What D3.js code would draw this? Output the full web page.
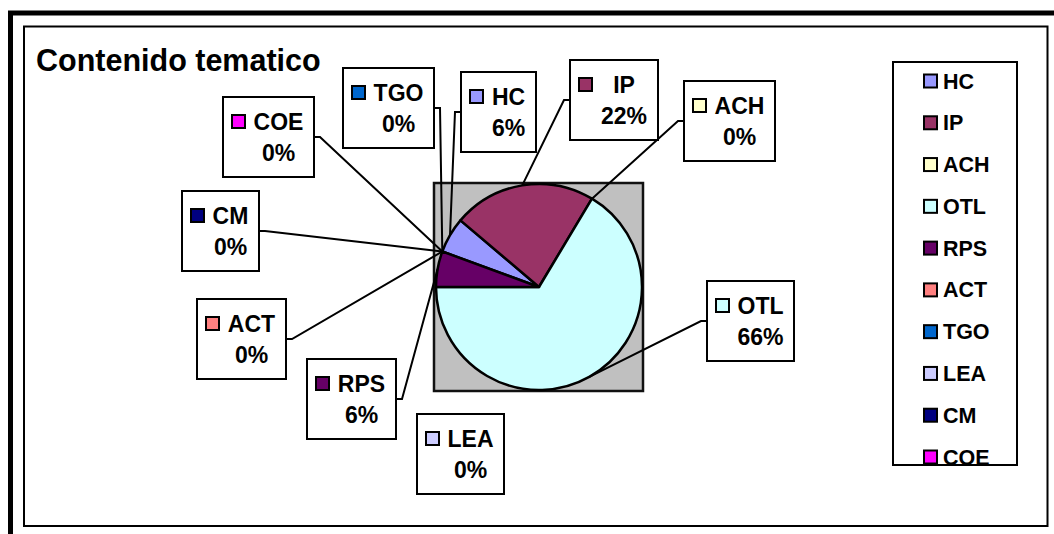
<!DOCTYPE html>
<html>
<head>
<meta charset="utf-8">
<script src="https://cdn.jsdelivr.net/npm/d3@7"></script>
<style>
  html, body { margin: 0; padding: 0; background: #fff; }
  svg { display: block; }
  text { font-family: "Liberation Sans", Arial, Helvetica, sans-serif; font-weight: bold; fill: #000; }
</style>
</head>
<body>
<script>
// ---- data ----
const title = "Contenido tematico";
const categories = ["HC", "IP", "ACH", "OTL", "RPS", "ACT", "TGO", "LEA", "CM", "COE"];
const values = [5.6, 22.4, 0, 66.4, 5.6, 0, 0, 0, 0, 0];
const colors = ["#9999FF", "#993366", "#FFFFCC", "#CCFFFF", "#660066", "#FF8080", "#0066CC", "#CCCCFF", "#000080", "#FF00FF"];

// ---- layout (positions of label boxes, in px) ----
const labelBoxes = {
  HC:  { x: 461, y: 72,  w: 75, leader: true },
  IP:  { x: 570, y: 60,  w: 88, leader: true },
  ACH: { x: 684, y: 81,  w: 91, leader: true },
  OTL: { x: 707, y: 281, w: 87, leader: true },
  RPS: { x: 307, y: 359, w: 89, leader: true },
  ACT: { x: 197, y: 299, w: 89, leader: true },
  TGO: { x: 343, y: 68,  w: 91, leader: true },
  LEA: { x: 417, y: 414, w: 87, leader: false },
  CM:  { x: 182, y: 191, w: 77, leader: true },
  COE: { x: 223, y: 97,  w: 91, leader: true }
};
const boxH = 80;

const W = 1054, H = 534;
const svg = d3.select("body").append("svg").attr("width", W).attr("height", H);
svg.append("rect").attr("width", W).attr("height", H).attr("fill", "#fff");

// outer thick frame
svg.append("rect").attr("x", 10.5).attr("y", 13).attr("width", 1200).attr("height", 700)
  .attr("fill", "none").attr("stroke", "#000").attr("stroke-width", 5);
// inner chart-area frame
svg.append("rect").attr("x", 24).attr("y", 26.5).attr("width", 1023.5).attr("height", 499.5)
  .attr("fill", "#fff").attr("stroke", "#000").attr("stroke-width", 2);

// title
svg.append("text").attr("x", 36).attr("y", 70.5).style("font-size", "30.5px").text(title);

// plot area
const plot = { x: 434, y: 183, w: 209, h: 208 };
svg.append("rect").attr("x", plot.x).attr("y", plot.y).attr("width", plot.w).attr("height", plot.h)
  .attr("fill", "#C0C0C0").attr("stroke", "#111").attr("stroke-width", 2.5);

const cx = 539, cy = 287, r = 103;
const data = categories.map((c, i) => ({ name: c, value: values[i], color: colors[i] }));
const total = d3.sum(values);

// first slice angle: zero-value slices sit at the RPS/HC boundary, OTL ends at 9 o'clock
const rpsSpan = values[4] / total * 2 * Math.PI;
const start = 1.5 * Math.PI + rpsSpan;
const pie = d3.pie().sort(null).value(d => d.value).startAngle(start).endAngle(start + 2 * Math.PI);
const arcs = pie(data);
const arc = d3.arc().innerRadius(0).outerRadius(r);
const edge = d3.arc().innerRadius(r).outerRadius(r);

const g = svg.append("g").attr("transform", `translate(${cx},${cy})`);
g.selectAll("path").data(arcs.filter(d => d.value > 0)).join("path")
  .attr("d", arc).attr("fill", d => d.data.color)
  .attr("stroke", "#000").attr("stroke-width", 2.5).attr("stroke-linejoin", "round");

// leader lines
const leaders = svg.append("g");
arcs.forEach(d => {
  const b = labelBoxes[d.data.name];
  if (!b.leader) return;
  const [px, py] = edge.centroid(d);
  const ax = cx + px, ay = cy + py;
  const midY = b.y + boxH / 2;
  const left = (b.x + b.w / 2) < ax;
  const x0 = left ? b.x + b.w : b.x;
  const x1 = left ? x0 + 6 : x0 - 6;
  leaders.append("path")
    .attr("d", d3.line()([[x0, midY], [x1, midY], [ax, ay]]))
    .attr("fill", "none").attr("stroke", "#000").attr("stroke-width", 2);
});

// data labels
const fmt = v => Math.round(v / total * 100) + "%";
arcs.forEach(d => {
  const b = labelBoxes[d.data.name];
  const lg = svg.append("g");
  lg.append("rect").attr("x", b.x).attr("y", b.y).attr("width", b.w).attr("height", boxH)
    .attr("fill", "#fff").attr("stroke", "#000").attr("stroke-width", 2);
  lg.append("rect").attr("x", b.x + 9).attr("y", b.y + 18).attr("width", 13).attr("height", 13)
    .attr("fill", d.data.color).attr("stroke", "#000").attr("stroke-width", 2);
  const tcx = b.x + (b.w + 20) / 2;
  lg.append("text").attr("x", tcx).attr("y", b.y + 32.5).attr("text-anchor", "middle")
    .style("font-size", "23px").text(d.data.name);
  lg.append("text").attr("x", tcx).attr("y", b.y + 63.5).attr("text-anchor", "middle")
    .style("font-size", "23px").text(fmt(d.data.value));
});

// legend
const legend = svg.append("g");
legend.append("rect").attr("x", 893).attr("y", 62).attr("width", 124).attr("height", 403)
  .attr("fill", "#fff").attr("stroke", "#000").attr("stroke-width", 2);
const ly = d3.scalePoint().domain(categories).range([81, 457]);
categories.forEach((c, i) => {
  const y = ly(c);
  legend.append("rect").attr("x", 924).attr("y", y - 6.5).attr("width", 13).attr("height", 13)
    .attr("fill", colors[i]).attr("stroke", "#000").attr("stroke-width", 2);
  legend.append("text").attr("x", 943).attr("y", y + 7.5).style("font-size", "21.5px").text(c);
});
</script>
</body>
</html>
